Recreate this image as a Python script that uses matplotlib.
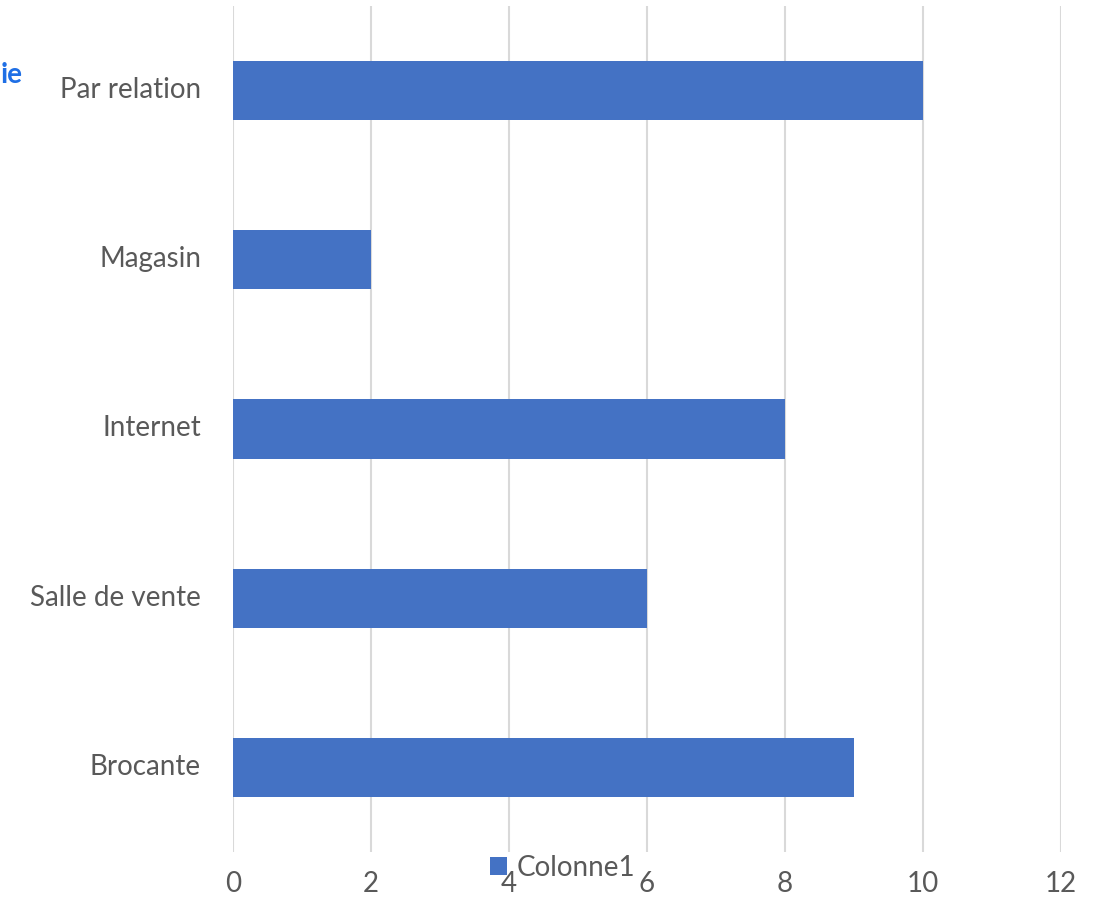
import matplotlib
matplotlib.use("Agg")
import matplotlib.pyplot as plt
from matplotlib.patches import Patch
from matplotlib.transforms import ScaledTranslation

categories = ["Brocante", "Salle de vente", "Internet", "Magasin", "Par relation"]
values = [9, 6, 8, 2, 10]
xticks = [0, 2, 4, 6, 8, 10, 12]
series_name = "Colonne1"

bar_color = "#4472C4"
text_color = "#595959"
grid_color = "#D9D9D9"

plt.rcParams['font.family'] = ['Lato', 'DejaVu Sans']

fig = plt.figure(figsize=(11.04, 9.05), dpi=100)
ax = fig.add_axes([233/1104, 53/905, (1061-233)/1104, (852-6)/905])

ax.barh(range(len(categories)), values, height=0.35, color=bar_color, zorder=3)
ax.set_ylim(-0.5, len(categories) - 0.5)
ax.set_xlim(0, 12)
ax.set_xticks(xticks)
ax.set_xticklabels([str(t) for t in xticks])
ax.set_yticks(range(len(categories)))
ax.set_yticklabels(categories)
ax.tick_params(axis='both', length=0, labelsize=20, colors=text_color)
ax.tick_params(axis='x', pad=14)
ax.tick_params(axis='y', pad=23)
shift = ScaledTranslation(0, 3/100, fig.dpi_scale_trans)
for lbl in ax.get_yticklabels():
    lbl.set_transform(lbl.get_transform() + shift)
ax.grid(axis='x', color=grid_color, linewidth=1.5, zorder=0)
for s in ax.spines.values():
    s.set_visible(False)

handles = [Patch(facecolor=bar_color, label=series_name)]
fig.legend(handles=handles, loc='center left', bbox_to_anchor=(479/1104, 37/905),
           frameon=False, fontsize=20, handlelength=0.6, handleheight=0.6,
           handletextpad=0.35, labelcolor=text_color, borderaxespad=0)

fig.text(0.5/1104, (905-75)/905, "ie", ha='left', va='center', color="#1F6FE5",
         fontsize=20, fontweight='bold')

fig.savefig("out.png", dpi=100)
